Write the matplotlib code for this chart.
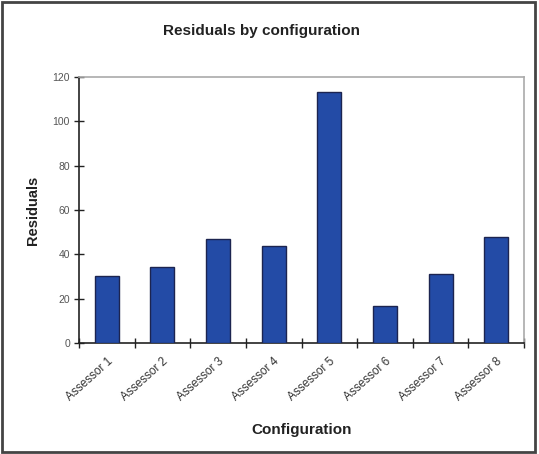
import matplotlib.pyplot as plt
from matplotlib.patches import Rectangle
import numpy as np

plt.rcParams['font.family'] = ['Liberation Sans', 'DejaVu Sans']

categories = ["Assessor 1", "Assessor 2", "Assessor 3", "Assessor 4",
              "Assessor 5", "Assessor 6", "Assessor 7", "Assessor 8"]
residuals = [30.4, 34.2, 47.0, 43.7, 113.3, 16.7, 31.3, 47.9]
y_ticks = [0, 20, 40, 60, 80, 100, 120]

fig = plt.figure(figsize=(5.39, 4.54), dpi=100)
ax = fig.add_axes([0.1466, 0.2445, 0.8256, 0.5859])

x = np.arange(len(categories))
ax.bar(x, residuals, width=0.43, color='#234ba6', edgecolor='#1c2450',
       linewidth=1.0, zorder=3)

ax.set_xlim(-0.5, len(categories) - 0.5)
ax.set_ylim(0, 120)
ax.set_yticks(y_ticks)
ax.set_yticklabels([str(v) for v in y_ticks], color='#555555', fontsize=7.5)

ax.set_xticks(x)
ax.set_xticklabels(categories, rotation=42, ha='right', rotation_mode='anchor',
                   fontsize=8.5, color='#333333')
ax.set_xticks(np.arange(len(categories) + 1) - 0.5, minor=True)
ax.tick_params(axis='x', which='major', length=0, pad=9)
ax.tick_params(axis='x', which='minor', direction='inout', length=7,
               width=1, color='#222222')
ax.tick_params(axis='y', direction='inout', length=7, width=1,
               color='#222222', pad=3)

for side in ['left', 'bottom']:
    ax.spines[side].set_color('#222222')
    ax.spines[side].set_linewidth(1.2)
for side in ['top', 'right']:
    ax.spines[side].set_color('#aaaaaa')
    ax.spines[side].set_linewidth(1.2)

ax.set_title("Residuals by configuration", fontsize=11, fontweight='bold',
             color='#222222', pad=30, x=0.41)
ax.set_ylabel("Residuals", fontsize=10.5, fontweight='bold', color='#222222',
              labelpad=9)
ax.set_xlabel("Configuration", fontsize=11, fontweight='bold',
              color='#222222', labelpad=14)

fig.patches.append(Rectangle((0.004, 0.004), 0.989, 0.991,
                             transform=fig.transFigure, fill=False,
                             edgecolor='#444444', linewidth=2))

fig.savefig("out.png", dpi=100)
